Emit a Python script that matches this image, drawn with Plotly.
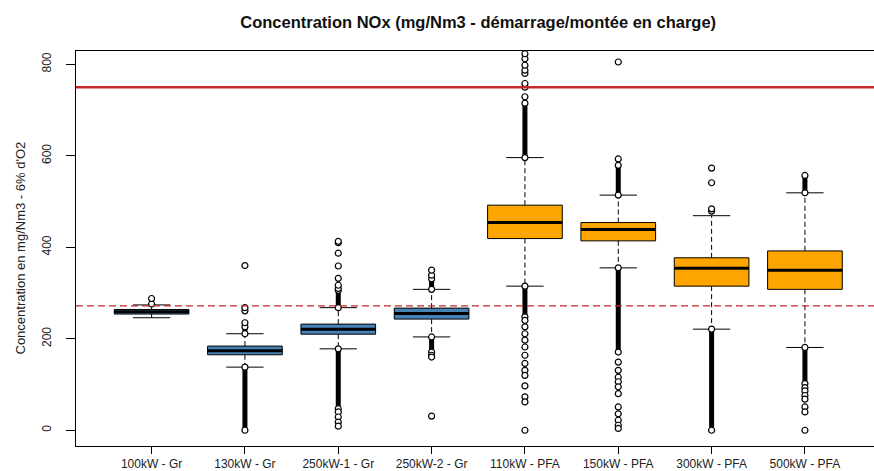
import plotly.graph_objects as go

# ---------------- data ----------------
categories = ["100kW - Gr", "130kW - Gr", "250kW-1 - Gr", "250kW-2 - Gr",
              "110kW - PFA", "150kW - PFA", "300kW - PFA", "500kW - PFA"]
group = ["Gr", "Gr", "Gr", "Gr", "PFA", "PFA", "PFA", "PFA"]

q1 = [254, 165, 210, 243, 419, 414, 315, 308]
median = [259, 174, 221, 255, 454, 439, 354, 350]
q3 = [264, 184, 232, 267, 492, 454, 377, 392]
lower_whisker = [246, 138, 178, 204, 315, 355, 221, 181]
upper_whisker = [274, 211, 268, 308, 596, 514, 469, 519]

# dense streaks of overlapping outliers (category index, low, high)
band_cat = [0, 1, 1, 2, 2, 3, 3, 4, 4, 5, 5, 6, 7, 7]
band_low = [276, 211, 0, 268, 47, 308, 171, 596, 248, 514, 171, 0, 519, 102]
band_high = [288, 226, 138, 306, 178, 331, 204, 715, 315, 579, 355, 221, 557, 181]

# individual outliers (category index, value)
outlier_cat = [1, 1, 1, 1,
               2, 2, 2, 2, 2, 2, 2, 2, 2, 2, 2,
               3, 3, 3, 3, 3,
               4, 4, 4, 4, 4, 4, 4, 4,
               4, 4, 4, 4, 4, 4, 4, 4, 4, 4, 4, 4, 4,
               5, 5, 5, 5, 5, 5, 5, 5, 5, 5, 5, 5, 5,
               6, 6, 6, 6,
               7, 7, 7, 7, 7, 7, 7]
outlier_val = [235, 261, 268, 360,
               310, 317, 332, 359, 387, 410, 413, 40, 29, 18, 9,
               339, 350, 164, 160, 31,
               729, 750, 758, 780, 787, 798, 812, 823,
               240, 226, 211, 197, 182, 164, 146, 131, 120, 97, 73, 62, 0,
               593, 805, 149, 131, 116, 106, 95, 80, 51, 36, 22, 11, 4,
               479, 484, 541, 573,
               93, 86, 76, 68, 51, 40, 0]

limit_solid = 750
limit_dashed = 272

y_ticks = [0, 200, 400, 600, 800]

title_text = "Concentration NOx (mg/Nm3 - démarrage/montée en charge)"
y_title = "Concentration en mg/Nm3 - 6% d'O2"

colors = {"Gr": "#4682B4", "PFA": "#FFA500"}

# ---------------- figure ----------------
FONT = "Liberation Sans, Arial, sans-serif"
half = 0.4     # half box width
cap = 0.2      # half whisker-cap width
fig = go.Figure()

xs = list(range(len(categories)))

for g in ["Gr", "PFA"]:
    idx = [i for i in xs if group[i] == g]
    fig.add_trace(go.Box(
        x=idx,
        q1=[q1[i] for i in idx],
        median=[median[i] for i in idx],
        q3=[q3[i] for i in idx],
        lowerfence=[q1[i] for i in idx],
        upperfence=[q3[i] for i in idx],
        width=2 * half,
        whiskerwidth=0,
        fillcolor=colors[g],
        line=dict(color="black", width=1),
        boxpoints=False,
        hoverinfo="skip",
        showlegend=False,
    ))

# dashed whiskers
wx, wy = [], []
for i in xs:
    wx += [i, i, None, i, i, None]
    wy += [q3[i], upper_whisker[i], None, q1[i], lower_whisker[i], None]
fig.add_trace(go.Scatter(x=wx, y=wy, mode="lines",
                         line=dict(color="black", width=1, dash="5px,3px"),
                         hoverinfo="skip", showlegend=False))

# whisker caps
cx, cy = [], []
for i in xs:
    cx += [i - cap, i + cap, None, i - cap, i + cap, None]
    cy += [upper_whisker[i], upper_whisker[i], None, lower_whisker[i], lower_whisker[i], None]
fig.add_trace(go.Scatter(x=cx, y=cy, mode="lines",
                         line=dict(color="black", width=1),
                         hoverinfo="skip", showlegend=False))

# thick medians
mx, my = [], []
for i in xs:
    mx += [i - half, i + half, None]
    my += [median[i], median[i], None]
fig.add_trace(go.Scatter(x=mx, y=my, mode="lines",
                         line=dict(color="black", width=3),
                         hoverinfo="skip", showlegend=False))

# dense outlier streaks
bx, by = [], []
for c, lo, hi in zip(band_cat, band_low, band_high):
    bx += [c, c, None]
    by += [lo, hi, None]
fig.add_trace(go.Scatter(x=bx, y=by, mode="lines+markers",
                         line=dict(color="black", width=5),
                         marker=dict(symbol="circle", size=6, color="white",
                                     line=dict(color="black", width=1.2)),
                         hoverinfo="skip", showlegend=False))

# individual outliers
fig.add_trace(go.Scatter(x=outlier_cat, y=outlier_val, mode="markers",
                         marker=dict(symbol="circle", size=6, color="white",
                                     line=dict(color="black", width=1.2)),
                         hoverinfo="skip", showlegend=False))

# reference lines
fig.add_shape(type="line", xref="paper", x0=0, x1=1, yref="y",
              y0=limit_solid, y1=limit_solid,
              line=dict(color="#C62828", width=2.5))
fig.add_shape(type="line", xref="paper", x0=0, x1=1, yref="y",
              y0=limit_dashed, y1=limit_dashed,
              line=dict(color="#C0282A", width=1.3, dash="7px,4px"))

fig.update_layout(
    width=874, height=471,
    margin=dict(l=76, r=0, t=51, b=25, autoexpand=False),
    paper_bgcolor="white", plot_bgcolor="white",
    font=dict(family=FONT, color="#222222", size=12),
    boxmode="overlay",
    showlegend=False,
    title=dict(text="<b>" + title_text + "</b>", x=0.504, xref="paper",
               y=1 - 22 / 471, yref="container", xanchor="center", yanchor="middle",
               font=dict(family=FONT, size=16.5, color="#111111")),
    xaxis=dict(range=[-0.81, 7.74], tickmode="array", tickvals=xs, ticktext=categories,
               showline=True, linecolor="black", linewidth=1, mirror=True,
               ticks="outside", ticklen=7, tickcolor="black",
               showgrid=False, zeroline=False, automargin=False,
               tickfont=dict(size=12, family=FONT, color="#222222")),
    yaxis=dict(range=[-34.4, 829], tickmode="array", tickvals=y_ticks,
               showline=True, linecolor="black", linewidth=1, mirror=False,
               ticks="outside", ticklen=9, tickcolor="black", tickangle=-90,
               ticklabelstandoff=10, automargin=False,
               showgrid=False, zeroline=False,
               tickfont=dict(size=12, family=FONT, color="#222222")),
    annotations=[dict(text=y_title, xref="paper", yref="paper",
                      x=(20 - 76) / 798, y=0.5, xanchor="center", yanchor="middle",
                      textangle=-90, showarrow=False,
                      font=dict(size=13, family=FONT, color="#222222"))],
)

fig.write_html("out.html",
               config={"displayModeBar": False},
               post_script="document.body.style.margin='0';document.body.style.overflow='hidden';")
